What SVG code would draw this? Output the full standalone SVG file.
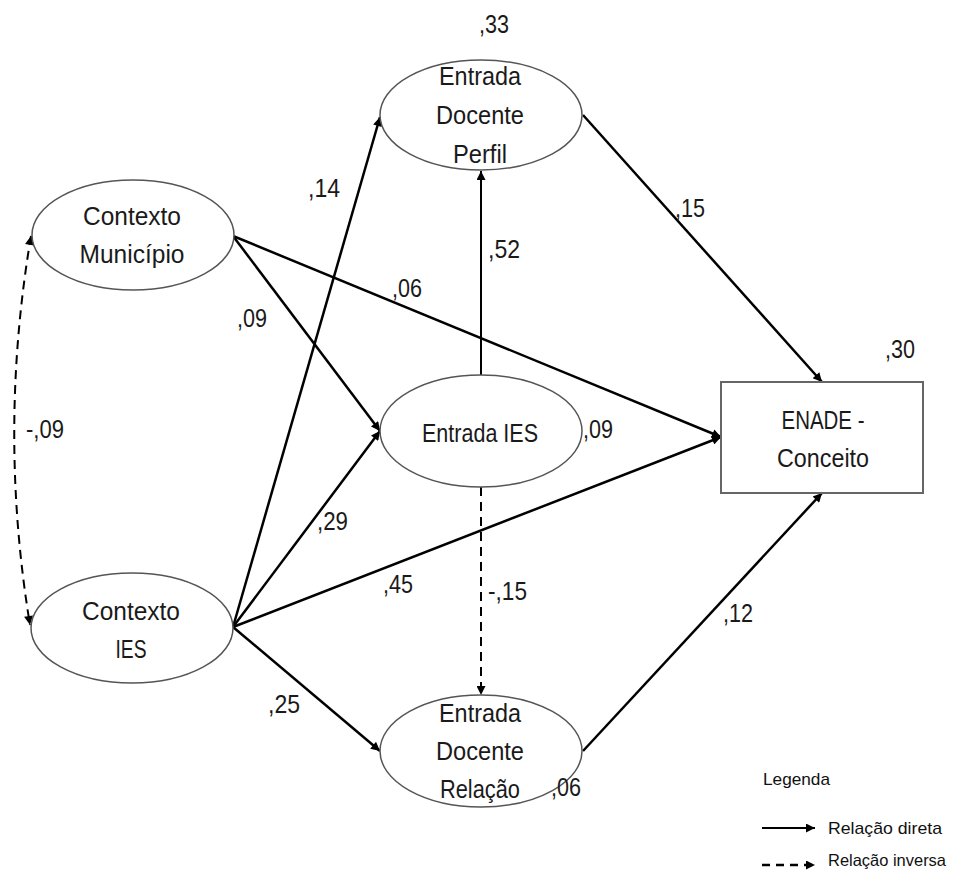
<svg xmlns="http://www.w3.org/2000/svg" width="954" height="875" viewBox="0 0 954 875">
<defs>
<style>
.node{fill:#fff;stroke:#555;stroke-width:1.5}
.box{fill:#fff;stroke:#666;stroke-width:2}
.lbl{font-family:"Liberation Sans",Arial,sans-serif;font-size:26px;fill:#1a1a1a;text-anchor:middle}
.num{font-family:"Liberation Sans",Arial,sans-serif;font-size:25px;fill:#1a1a1a}
.leg{font-family:"Liberation Sans",Arial,sans-serif;font-size:17px;fill:#111}
.e{fill:none;stroke:#000;stroke-width:2.5;marker-end:url(#ah)}
.d{fill:none;stroke:#000;stroke-width:2;stroke-dasharray:9 6;marker-end:url(#ah)}
</style>
<marker id="ah" viewBox="0 0 10 10" refX="10" refY="5" markerWidth="11" markerHeight="9" markerUnits="userSpaceOnUse" orient="auto-start-reverse">
<path d="M0,0 L10,5 L0,10 z" fill="#000"/>
</marker>
</defs>
<rect width="954" height="875" fill="#fff"/>
<g id="connectors">
<path class="e" d="M233,236 L721,437"/>
<path class="e" d="M233,236 L380,431"/>
<path class="e" d="M233,627 L380,117"/>
<path class="e" d="M233,627 L380,431"/>
<path class="e" d="M233,627 L721,437"/>
<path class="e" d="M233,627 L380,751"/>
<path class="e" style="stroke-width:2" d="M481,375 L481,171"/>
<path class="d" d="M481,487 L481,695"/>
<path class="e" d="M583,115 L822,382"/>
<path class="e" d="M583,751 L822,493"/>
<path class="d" style="marker-start:url(#ah)" d="M31,236 Q-2,431 30,625"/>
</g>
<g id="n-perfil"><ellipse class="node" cx="481" cy="115" rx="101" ry="55"/><text class="lbl" x="480" y="85" textLength="82" lengthAdjust="spacingAndGlyphs">Entrada</text><text class="lbl" x="480" y="124" textLength="88" lengthAdjust="spacingAndGlyphs">Docente</text><text class="lbl" x="480" y="163" textLength="54" lengthAdjust="spacingAndGlyphs">Perfil</text></g>
<g id="n-municipio"><ellipse class="node" cx="133" cy="235" rx="101" ry="55"/><text class="lbl" x="132" y="225" textLength="98" lengthAdjust="spacingAndGlyphs">Contexto</text><text class="lbl" x="132" y="263" textLength="105" lengthAdjust="spacingAndGlyphs">Município</text></g>
<g id="n-entradaies"><ellipse class="node" cx="481" cy="431" rx="101" ry="56"/><text class="lbl" x="480" y="442" textLength="116" lengthAdjust="spacingAndGlyphs">Entrada IES</text></g>
<g id="n-contextoies"><ellipse class="node" cx="132" cy="628" rx="101" ry="55"/><text class="lbl" x="131" y="620" textLength="98" lengthAdjust="spacingAndGlyphs">Contexto</text><text class="lbl" x="131" y="658" textLength="31" lengthAdjust="spacingAndGlyphs">IES</text></g>
<g id="n-relacao"><ellipse class="node" cx="481" cy="751" rx="101" ry="56"/><text class="lbl" x="480" y="722" textLength="82" lengthAdjust="spacingAndGlyphs">Entrada</text><text class="lbl" x="480" y="760" textLength="88" lengthAdjust="spacingAndGlyphs">Docente</text><text class="lbl" x="480" y="798" textLength="80" lengthAdjust="spacingAndGlyphs">Relação</text></g>
<g id="n-enade"><rect class="box" x="721" y="382" width="202" height="111"/><text class="lbl" x="823" y="429" textLength="83" lengthAdjust="spacingAndGlyphs">ENADE -</text><text class="lbl" x="823" y="467" textLength="92" lengthAdjust="spacingAndGlyphs">Conceito</text></g>
<g id="labels">
<text class="num" x="479" y="33" textLength="30" lengthAdjust="spacingAndGlyphs">,33</text>
<text class="num" x="885" y="358" textLength="30" lengthAdjust="spacingAndGlyphs">,30</text>
<text class="num" x="583" y="438" textLength="30" lengthAdjust="spacingAndGlyphs">,09</text>
<text class="num" x="551" y="796" textLength="30" lengthAdjust="spacingAndGlyphs">,06</text>
<text class="num" x="308" y="197" textLength="32" lengthAdjust="spacingAndGlyphs">,14</text>
<text class="num" x="488" y="258" textLength="32" lengthAdjust="spacingAndGlyphs">,52</text>
<text class="num" x="392" y="297" textLength="30" lengthAdjust="spacingAndGlyphs">,06</text>
<text class="num" x="237" y="327" textLength="30" lengthAdjust="spacingAndGlyphs">,09</text>
<text class="num" x="317" y="530" textLength="31" lengthAdjust="spacingAndGlyphs">,29</text>
<text class="num" x="383" y="593" textLength="30" lengthAdjust="spacingAndGlyphs">,45</text>
<text class="num" x="26" y="438" textLength="38" lengthAdjust="spacingAndGlyphs">-,09</text>
<text class="num" x="675" y="217" textLength="30" lengthAdjust="spacingAndGlyphs">,15</text>
<text class="num" x="488" y="600" textLength="39" lengthAdjust="spacingAndGlyphs">-,15</text>
<text class="num" x="723" y="622" textLength="30" lengthAdjust="spacingAndGlyphs">,12</text>
<text class="num" x="268" y="713" textLength="32" lengthAdjust="spacingAndGlyphs">,25</text>
</g>
<g id="legend">
<text class="leg" x="763" y="785" textLength="67" lengthAdjust="spacingAndGlyphs">Legenda</text>
<path class="e" style="stroke-width:2" d="M762,828 L815,828"/>
<path class="d" style="stroke-width:2.5;stroke-dasharray:8 6" d="M762,865 L815,865"/>
<text class="leg" x="828" y="834" textLength="114" lengthAdjust="spacingAndGlyphs">Relação direta</text>
<text class="leg" style="font-size:16.5px" x="828" y="866" textLength="118" lengthAdjust="spacingAndGlyphs">Relação inversa</text>
</g>
</svg>
